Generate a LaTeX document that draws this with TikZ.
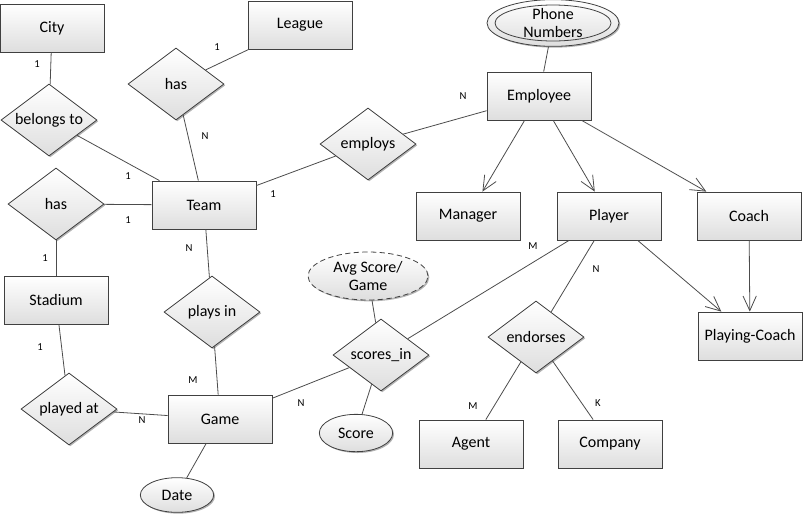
\documentclass[tikz,border=0pt]{standalone}
\usepackage{fontspec}
\setmainfont{Carlito}
\usetikzlibrary{shapes.geometric,arrows.meta,shadows}
\begin{document}
\begin{tikzpicture}[x=0.75pt,y=-0.75pt,
  conn/.style={draw=black!70, line width=0.6pt},
  isa/.style={conn, -{Straight Barb[length=11pt,width=10pt]}},
  shadefill/.style={top color=white, bottom color=black!13,
    drop shadow={shadow xshift=1pt, shadow yshift=-1pt, fill=black!50, opacity=0.6}},
  entity/.style={rectangle, draw=black!75, line width=0.6pt, shadefill,
    minimum width=78pt, minimum height=36pt, inner sep=0pt,
    font=\fontsize{12}{14}\selectfont},
  rel/.style={diamond, draw=black!75, line width=0.6pt, shadefill,
    minimum width=72pt, minimum height=54pt, inner sep=0pt},
  attr/.style={ellipse, draw=black!75, line width=0.6pt, shadefill, inner sep=0pt},
  rtext/.style={font=\fontsize{12}{14}\selectfont, align=center, inner sep=0pt},
  card/.style={font=\fontsize{8}{9}\selectfont, inner sep=0pt}
]
\useasboundingbox (0,0) rectangle (805,515);

% entities
\node[entity] (city) at (52,28) {City};
\node[entity] (league) at (300,25) {League};
\node[entity] (team) at (204,205) {Team};
\node[entity] (stadium) at (56,300) {Stadium};
\node[entity] (game) at (220,419) {Game};
\node[entity] (employee) at (539,96) {Employee};
\node[entity] (manager) at (468,216) {Manager};
\node[entity] (player) at (609,216) {Player};
\node[entity] (coach) at (749,216) {Coach};
\node[entity] (pcoach) at (750,336) {Playing-Coach};
\node[entity] (agent) at (471,444) {Agent};
\node[entity] (company) at (610,444) {Company};

% relationships
\node[rel] (belongs) at (49,120) {};
\node[rtext] (tbelongs) at (belongs) {belongs to};
\node[rel] (hasl) at (176,84) {};
\node[rtext] (thasl) at (hasl) {has};
\node[rel] (hass) at (56,204) {};
\node[rtext] (thass) at (hass) {has};
\node[rel] (playedat) at (69,409) {};
\node[rtext] (tplayedat) at (playedat) {played at};
\node[rel] (playsin) at (212,312) {};
\node[rtext] (tplaysin) at (playsin) {plays in};
\node[rel] (scores) at (381,355) {};
\node[rtext] (tscores) at (scores) {scores\_in};
\node[rel] (employs) at (368,144) {};
\node[rtext] (temploys) at (employs) {employs};
\node[rel] (endorses) at (536,337) {};
\node[rtext] (tendorses) at (endorses) {endorses};

% attributes
\node[attr, minimum width=99pt, minimum height=35pt] (phone) at (553,23) {};
\draw[draw=black!75, line width=0.6pt] (phone.center) ellipse [x radius=43.5pt, y radius=13.5pt];
\node[rtext, font=\fontsize{12}{13.5}\selectfont] (tphone) at (phone) {Phone\\Numbers};
\node[attr, dashed, dash pattern=on 4pt off 2.5pt, minimum width=90pt, minimum height=36pt] (avg) at (368,276) {};
\node[rtext, font=\fontsize{12}{13.5}\selectfont] (tavg) at (avg) {Avg Score/\\Game};
\node[attr, minimum width=55pt, minimum height=28pt] (score) at (356,433) {};
\node[rtext] (tscore) at (score) {Score};
\node[attr, minimum width=55pt, minimum height=26pt] (date) at (177,495) {};
\node[rtext] (tdate) at (date) {Date};

% connectors
\begin{scope}[on background layer/.try]
\end{scope}
\draw[conn] (city) -- (belongs);
\draw[conn] (belongs) -- (team);
\draw[conn] (hasl) -- (league);
\draw[conn] (hasl) -- (team);
\draw[conn] (hass) -- (team);
\draw[conn] (hass) -- (stadium);
\draw[conn] (stadium) -- (playedat);
\draw[conn] (playedat) -- (game);
\draw[conn] (team) -- (playsin);
\draw[conn] (playsin) -- (game);
\draw[conn] (game) -- (date);
\draw[conn] (game) -- (scores);
\draw[conn] (scores) -- (avg);
\draw[conn] (scores) -- (score);
\draw[conn] (scores) -- (player);
\draw[conn] (team) -- (employs);
\draw[conn] (employs) -- (employee);
\draw[conn] (employee) -- (phone);
\draw[isa] (employee) -- (manager);
\draw[isa] (employee) -- (player);
\draw[isa] (employee) -- (coach);
\draw[isa] (player) -- (pcoach);
\draw[isa] (coach) -- (pcoach);
\draw[conn] (player) -- (endorses);
\draw[conn] (endorses) -- (agent);
\draw[conn] (endorses) -- (company);

% cardinalities
\node[card] (c1) at (37,64) {1};
\node[card] (c2) at (217,47) {1};
\node[card] (c3) at (205,136) {N};
\node[card] (c4) at (128,176) {1};
\node[card] (c5) at (128,220) {1};
\node[card] (c6) at (45,258) {1};
\node[card] (c7) at (273,194) {1};
\node[card] (c8) at (463,96) {N};
\node[card] (c9) at (189,248) {N};
\node[card] (c10) at (40,347) {1};
\node[card] (c11) at (142,420) {N};
\node[card] (c12) at (193,380) {M};
\node[card] (c13) at (301,403) {N};
\node[card] (c14) at (533,246) {M};
\node[card] (c15) at (596,269) {N};
\node[card] (c16) at (473,406) {M};
\node[card] (c17) at (598,403) {K};
\end{tikzpicture}
\end{document}
